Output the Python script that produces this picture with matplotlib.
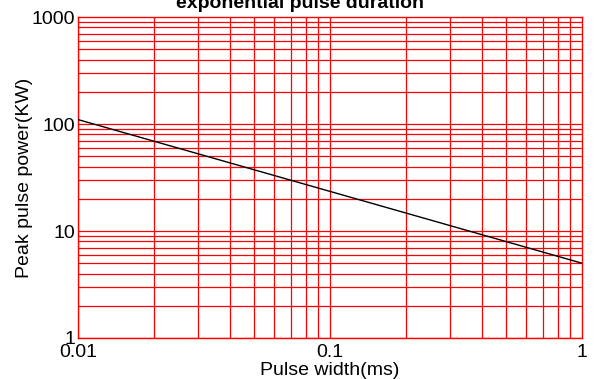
import matplotlib
matplotlib.use('Agg')
import matplotlib.pyplot as plt
import numpy as np

plt.rcParams['font.family'] = ['Liberation Sans', 'DejaVu Sans']

# curve end points
pulse_width = [0.01, 1.0]
peak_power = [110.0, 5.0]

x_ticks = [0.01, 0.1, 1]
x_tick_labels = ['0.01', '0.1', '1']
y_ticks = [1, 10, 100, 1000]
y_tick_labels = ['1', '10', '100', '1000']


def main():
    fig = plt.figure(figsize=(5.94, 3.79), dpi=100)
    ax = fig.add_axes([78 / 594, 1 - 338 / 379, (582 - 78) / 594, (338 - 17) / 379])
    ax.set_xscale('log')
    ax.set_yscale('log')
    ax.set_xlim(0.01, 1)
    ax.set_ylim(1, 1000)

    # red grid on every decade and sub-decade
    for dec in [0.01, 0.1]:
        for k in range(1, 10):
            ax.axvline(dec * k, color='red', lw=0.9, zorder=1)
    for dec in [1, 10, 100]:
        for k in range(1, 10):
            ax.axhline(dec * k, color='red', lw=0.9, zorder=1)

    ax.plot(pulse_width, peak_power, color='black', lw=1.0, zorder=3)

    for s in ax.spines.values():
        s.set_color('red')
        s.set_linewidth(1.0)

    ax.set_xticks(x_ticks)
    ax.set_xticklabels(x_tick_labels)
    ax.set_yticks(y_ticks)
    ax.set_yticklabels(y_tick_labels)
    ax.minorticks_off()
    ax.tick_params(length=0, labelsize=14, pad=2)
    ax.tick_params(axis='x', pad=4)

    ax.set_xlabel('Pulse width(ms)', fontsize=14, labelpad=1)
    ax.set_ylabel('Peak pulse power(KW)', fontsize=14, labelpad=-1)
    fig.text(0.505, 1 - 8 / 379, 'exponential pulse duration', ha='center', va='baseline',
             fontsize=14, fontweight='bold')

    fig.savefig('out.png', dpi=100)


if __name__ == '__main__':
    main()
